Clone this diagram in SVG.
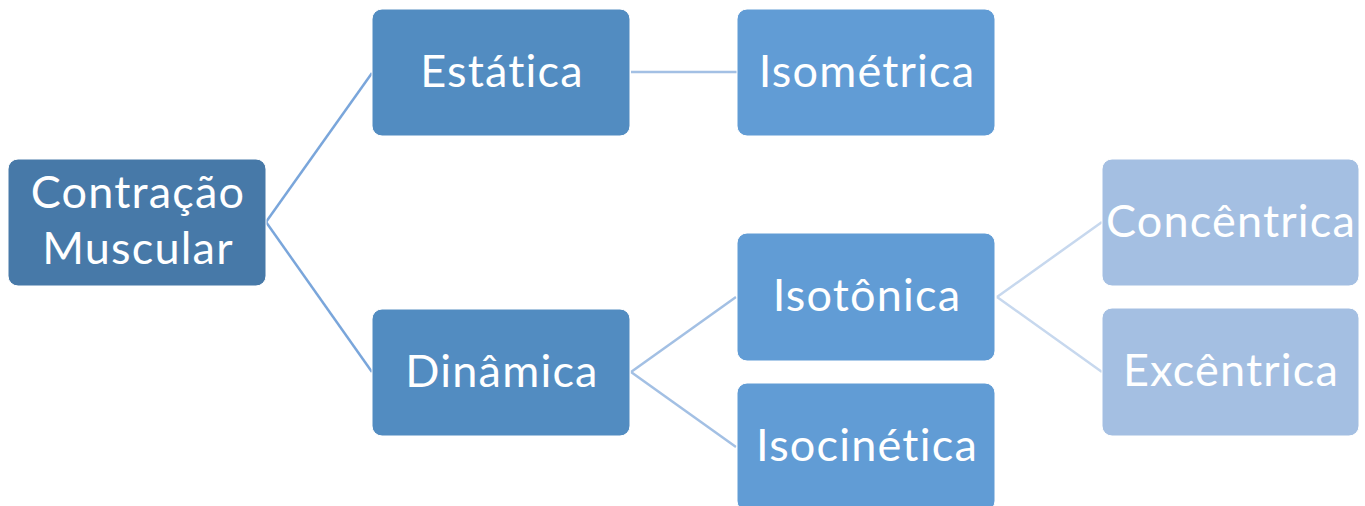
<svg xmlns="http://www.w3.org/2000/svg" width="1365" height="506" viewBox="0 0 1365 506">
<style>
.n rect{stroke:#ffffff;stroke-width:1;}
.l0 rect{fill:#4779A8;}
.l1 rect{fill:#528CC1;}
.l2 rect{fill:#619CD5;}
.l3 rect{fill:#A4BFE2;}
text{font-family:Lato,"Open Sans",sans-serif;font-size:45px;letter-spacing:1.2px;fill:#ffffff;text-anchor:middle;}
.c line{stroke-width:2.5;fill:none;}
</style>
<rect width="1365" height="506" fill="#ffffff"/>
<g id="connectors" class="c">
<line x1="266" y1="222" x2="372" y2="73" stroke="#7AA6DB"/>
<line x1="266" y1="222" x2="372" y2="372" stroke="#7AA6DB"/>
<line x1="631" y1="72" x2="737" y2="72" stroke="#A3C0E4"/>
<line x1="631" y1="372" x2="736" y2="297" stroke="#A3C0E4"/>
<line x1="631" y1="372" x2="736" y2="447" stroke="#A3C0E4"/>
<line x1="997" y1="297" x2="1102" y2="222" stroke="#C7D8EE"/>
<line x1="997" y1="297" x2="1102" y2="372" stroke="#C7D8EE"/>
</g>
<g id="root" class="n l0"><rect x="8" y="159" width="258" height="127" rx="10"/><text x="138" y="208">Contração</text><text x="138" y="264">Muscular</text></g>
<g id="estatica" class="n l1"><rect x="372" y="9" width="258" height="127" rx="10"/><text x="502" y="87">Estática</text></g>
<g id="dinamica" class="n l1"><rect x="372" y="309" width="258" height="127" rx="10"/><text x="502" y="387">Dinâmica</text></g>
<g id="isometrica" class="n l2"><rect x="737" y="9" width="258" height="127" rx="10"/><text x="867" y="87">Isométrica</text></g>
<g id="isotonica" class="n l2"><rect x="737" y="233" width="258" height="128" rx="10"/><text x="867" y="311">Isotônica</text></g>
<g id="isocinetica" class="n l2"><rect x="737" y="383" width="258" height="128" rx="10"/><text x="867" y="461">Isocinética</text></g>
<g id="concentrica" class="n l3"><rect x="1102" y="159" width="257" height="127" rx="10"/><text x="1231" y="237">Concêntrica</text></g>
<g id="excentrica" class="n l3"><rect x="1102" y="308" width="257" height="128" rx="10"/><text x="1231" y="386">Excêntrica</text></g>
</svg>
